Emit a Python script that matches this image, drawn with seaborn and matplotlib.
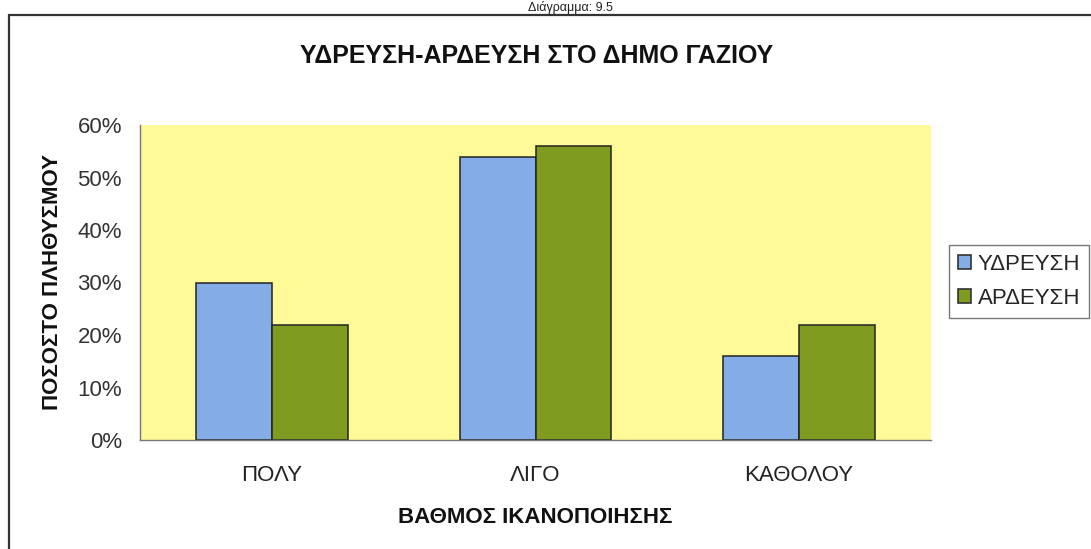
import matplotlib
matplotlib.use('Agg')
import matplotlib.pyplot as plt
import matplotlib.patches as mpatches
from matplotlib.ticker import PercentFormatter, FixedLocator
import pandas as pd
import seaborn as sns

# ── data ─────────────────────────────────────────────────────────────
categories = ['ΠΟΛΥ', 'ΛΙΓΟ', 'ΚΑΘΟΛΟΥ']
series = ['ΥΔΡΕΥΣΗ', 'ΑΡΔΕΥΣΗ']
ydreusi = [30, 54, 16]
ardeusi = [22, 56, 22]
yticks = [0, 10, 20, 30, 40, 50, 60]

df = pd.DataFrame({
    'cat': categories * 2,
    'series': [series[0]] * 3 + [series[1]] * 3,
    'value': ydreusi + ardeusi,
})

sns.set_style('white')
plt.rcParams['font.family'] = ['Liberation Sans', 'DejaVu Sans']

blue = '#84ACE6'
green = '#7F9B20'
yellow = '#FFFA98'

fig = plt.figure(figsize=(10.91, 5.49), dpi=100)
ax = fig.add_axes([140 / 1091, 1 - 440 / 549, (931 - 140) / 1091, (440 - 125) / 549])
ax.set_facecolor(yellow)

sns.barplot(data=df, x='cat', y='value', hue='series', order=categories,
            hue_order=series, palette=[blue, green], saturation=1,
            width=0.575, gap=0, edgecolor='#222222', linewidth=1.1,
            ax=ax, legend=False)

ax.set_xlim(-0.5, 2.5)
ax.set_ylim(0, 60)
ax.yaxis.set_major_locator(FixedLocator(yticks))
ax.yaxis.set_major_formatter(PercentFormatter(decimals=0))
ax.tick_params(axis='y', labelsize=16, length=8, direction='inout',
               color='#666666', labelcolor='#333333', pad=9, width=1)
ax.tick_params(axis='x', which='major', length=0, labelsize=16,
               labelcolor='#222222', pad=18)
ax.set_xticks([0.5, 1.5, 2.5], minor=True)
ax.tick_params(axis='x', which='minor', length=6, direction='out',
               color='#666666', width=1)

for s in ['top', 'right']:
    ax.spines[s].set_visible(False)
for s in ['left', 'bottom']:
    ax.spines[s].set_color('#777777')
    ax.spines[s].set_linewidth(1)

ax.set_xlabel('ΒΑΘΜΟΣ ΙΚΑΝΟΠΟΙΗΣΗΣ', fontsize=16, fontweight='bold',
              color='#111111', labelpad=15)
ax.set_ylabel('ΠΟΣΟΣΤΟ ΠΛΗΘΥΣΜΟΥ', fontsize=16, fontweight='bold',
              color='#111111', labelpad=10)

fig.text(537 / 1091, 1 - 56 / 549, 'ΥΔΡΕΥΣΗ-ΑΡΔΕΥΣΗ ΣΤΟ ΔΗΜΟ ΓΑΖΙΟΥ',
         ha='center', va='center', fontsize=18, fontweight='bold', color='#111111')

# caption at the very top of the scan
fig.text(570 / 1091, 1 - 1 / 549, 'Διάγραμμα: 9.5', ha='center', va='top',
         fontsize=9, color='#222222')

# chart frame
frame = mpatches.Rectangle((9 / 1091, -0.05), 1.1, 1 - 15 / 549 + 0.05,
                           transform=fig.transFigure, fill=False,
                           edgecolor='#333333', linewidth=1.6, clip_on=False)
fig.patches.append(frame)

handles = [mpatches.Patch(facecolor=c, edgecolor='#333333', linewidth=1.2, label=l)
           for c, l in zip([blue, green], series)]
fig.legend(handles=handles, loc='upper left',
           bbox_to_anchor=(949 / 1091, 1 - 245 / 549), fontsize=16,
           frameon=True, fancybox=False, edgecolor='#555555',
           handlelength=0.6, handleheight=0.6, handletextpad=0.3,
           labelspacing=0.6, borderpad=0.4, borderaxespad=0)

fig.savefig('out.png', dpi=100, facecolor='white')
